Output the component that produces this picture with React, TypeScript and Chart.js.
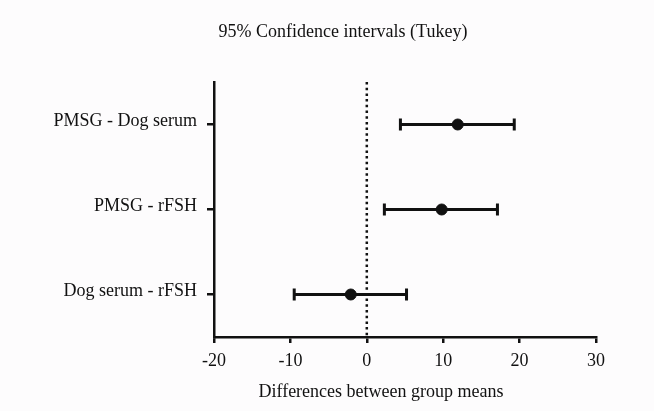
import React, { useEffect, useRef } from "react";
import { Chart, registerables } from "chart.js";

Chart.register(...registerables);

const chartTitle = "95% Confidence intervals (Tukey)";
const xAxisTitle = "Differences between group means";
const categories = ["PMSG - Dog serum", "PMSG - rFSH", "Dog serum - rFSH"];
const means = [11.9, 9.8, -2.1];
const lowerCI = [4.4, 2.3, -9.5];
const upperCI = [19.3, 17.1, 5.2];
const xMin = -20;
const xMax = 30;
const xStep = 10;

const FONT = '"Liberation Serif", "DejaVu Serif", serif';
const INK = "#111111";

const rowPos = (i: number) => categories.length - i - 0.5;

export default function App() {
  const ref = useRef<HTMLCanvasElement | null>(null);

  useEffect(() => {
    if (!ref.current) return;

    const decorations = {
      id: "decorations",
      beforeDatasetsDraw(chart: any) {
        const { ctx, scales, chartArea } = chart;
        const xs = scales.x;
        const ys = scales.y;
        ctx.save();
        // dotted zero line
        ctx.strokeStyle = INK;
        ctx.lineWidth = 2.5;
        ctx.setLineDash([2.5, 3.2]);
        const x0 = xs.getPixelForValue(0);
        ctx.beginPath();
        ctx.moveTo(x0, chartArea.top);
        ctx.lineTo(x0, chartArea.bottom);
        ctx.stroke();
        ctx.setLineDash([]);
        // error bars
        ctx.lineWidth = 3;
        categories.forEach((_, i) => {
          const y = ys.getPixelForValue(rowPos(i));
          const xl = xs.getPixelForValue(lowerCI[i]);
          const xu = xs.getPixelForValue(upperCI[i]);
          ctx.beginPath();
          ctx.moveTo(xl, y);
          ctx.lineTo(xu, y);
          ctx.moveTo(xl, y - 6);
          ctx.lineTo(xl, y + 6);
          ctx.moveTo(xu, y - 6);
          ctx.lineTo(xu, y + 6);
          ctx.stroke();
        });
        ctx.restore();
      },
      afterDraw(chart: any) {
        const { ctx } = chart;
        ctx.save();
        ctx.fillStyle = INK;
        ctx.font = `18px ${FONT}`;
        ctx.textAlign = "center";
        ctx.textBaseline = "alphabetic";
        ctx.fillText(chartTitle, 343, 37);
        ctx.fillText(xAxisTitle, 381, 397);
        ctx.restore();
      },
    };

    const bg = {
      id: "bg",
      beforeDraw(chart: any) {
        const { ctx, width, height } = chart;
        ctx.save();
        ctx.fillStyle = "#fdfcfd";
        ctx.fillRect(0, 0, width, height);
        ctx.restore();
      },
    };

    const chart = new Chart(ref.current, {
      type: "scatter",
      data: {
        datasets: [
          {
            data: means.map((m, i) => ({ x: m, y: rowPos(i) })),
            backgroundColor: INK,
            borderColor: INK,
            pointRadius: 5.5,
            pointHoverRadius: 5.5,
          },
        ],
      },
      options: {
        animation: false,
        responsive: false,
        layout: { padding: { top: 82, right: 58, bottom: 0, left: 0 } },
        plugins: {
          legend: { display: false },
          title: { display: false },
          tooltip: { enabled: false },
        },
        scales: {
          x: {
            type: "linear",
            min: xMin,
            max: xMax,
            afterFit(scale: any) {
              scale.height = 74;
            },
            ticks: {
              stepSize: xStep,
              color: INK,
              font: { family: FONT, size: 18 },
              padding: 7,
            },
            grid: {
              display: true,
              drawOnChartArea: false,
              drawTicks: true,
              tickLength: 6,
              lineWidth: 2.5,
              color: INK,
            },
            border: { display: true, width: 2.5, color: INK },
          },
          y: {
            type: "linear",
            min: 0,
            max: categories.length,
            afterFit(scale: any) {
              scale.width = 214;
            },
            afterBuildTicks(scale: any) {
              scale.ticks = categories.map((_, i) => ({ value: rowPos(i) })).reverse();
            },
            ticks: {
              color: INK,
              font: { family: FONT, size: 18 },
              padding: 10,
              labelOffset: -3,
              callback: (_v: any, index: number) => categories[categories.length - 1 - index],
            },
            grid: {
              display: true,
              drawOnChartArea: false,
              drawTicks: true,
              tickLength: 7,
              lineWidth: 2.5,
              color: INK,
            },
            border: { display: true, width: 2.5, color: INK },
          },
        },
      },
      plugins: [bg, decorations],
    });

    return () => chart.destroy();
  }, []);

  return (
    <div style={{ position: "absolute", left: 0, top: 0, width: 654, height: 411 }}>
      <canvas ref={ref} width={654} height={411} />
    </div>
  );
}
